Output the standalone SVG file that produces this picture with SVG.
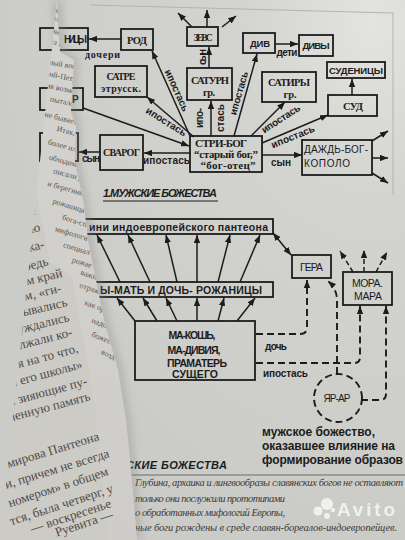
<svg xmlns="http://www.w3.org/2000/svg" width="405" height="540" viewBox="0 0 405 540">
<defs>
<style>
.bx{fill:none;stroke:#1c1c1c;stroke-width:1.8}
.ln{fill:none;stroke:#1c1c1c;stroke-width:1.5;marker-end:url(#ah)}
.dl{fill:none;stroke:#1c1c1c;stroke-width:1.9;stroke-dasharray:7 4;marker-end:url(#ah)}
.sf{font-family:"Liberation Serif","DejaVu Serif",serif;font-weight:bold;fill:#1c1c1c}
.ss{font-family:"Liberation Sans","DejaVu Sans",sans-serif;font-weight:bold;fill:#1c1c1c}
.sr{font-family:"Liberation Sans","DejaVu Sans",sans-serif;fill:#1c1c1c}
.c{text-anchor:middle}
.lb{font-size:10px}
.cap{font-family:"Liberation Sans",sans-serif;font-weight:bold;font-style:italic;font-size:11px;fill:#1c1c1c}
.pb{font-family:"Liberation Serif",serif;font-size:13px;fill:#4f4c48;text-anchor:end}
.ps{font-family:"Liberation Serif",serif;font-size:8px;fill:#5a5752;text-anchor:end}
.it{font-family:"Liberation Serif",serif;font-style:italic;font-size:10.5px;fill:#3d3b38}
</style>
<marker id="ah" viewBox="0 0 10 8" refX="10" refY="4" markerWidth="8" markerHeight="6.4" markerUnits="userSpaceOnUse" orient="auto-start-reverse"><path d="M0,0 L10,4 L0,8 Z" fill="#1c1c1c"/></marker>
<radialGradient id="bg" cx="0.92" cy="0.04" r="0.95"><stop offset="0" stop-color="#e3e3e0"/><stop offset="0.35" stop-color="#d3d3d0"/><stop offset="1" stop-color="#cbcbc8"/></radialGradient>
<linearGradient id="lp" x1="0" y1="0" x2="0" y2="1"><stop offset="0" stop-color="#d5d3cf"/><stop offset="1" stop-color="#cfcdc9"/></linearGradient>
<filter id="blur" x="-30%" y="-5%" width="160%" height="110%"><feGaussianBlur stdDeviation="4"/></filter>
<clipPath id="lpc"><path d="M57,0 L60,52 L74,60 L71,112 L76,124 L75,162 L84,205 L88,240 L96,280 L104,320 L118,370 L126,420 L131,470 L137,540 L0,540 Z"/></clipPath>
</defs>

<g id="page-bg">
<rect width="405" height="540" fill="url(#bg)"/>
<path d="M90,5 L393,13 L393,195" fill="none" stroke="#b3b3b0" stroke-width="1"/>
</g>

<g id="connectors">
<path class="ln" d="M121,39 H89"/>
<path class="ln" d="M275,44 H298"/>
<path class="ln" d="M209,68 V47"/>
<path class="ln" d="M352,95 V79"/>
<path class="ln" d="M192,27 L178,13"/>
<path class="ln" d="M207,27 V10"/>
<path class="ln" d="M222,27 L236,16"/>
<path class="ln" d="M190,136 L152,51"/>
<path class="ln" d="M194,137 L147,97"/>
<path class="ln" d="M83,108 L189,146"/>
<path class="ln" d="M211,136 V101"/>
<path class="ln" d="M234,136 L257,54"/>
<path class="ln" d="M251,136 L285,102"/>
<path class="ln" d="M262,143 L328,115"/>
<path class="ln" d="M262,155 H302"/>
<path class="ln" d="M190,153 H144"/>
<path class="ln" d="M100,152 H79"/>
<path class="ln" d="M372,141 L388,131"/>
<path class="ln" d="M372,158 H388"/>
<path class="ln" d="M372,173 L388,183"/>
<path class="ln" d="M120,282 L97,235"/>
<path class="ln" d="M150,282 L128,235"/>
<path class="ln" d="M177,282 L166,235"/>
<path class="ln" d="M197,282 V235"/>
<path class="ln" d="M218,282 L230,235"/>
<path class="ln" d="M240,282 L260,235"/>
<path class="ln" d="M135,321 L117,298"/>
<path class="ln" d="M157,321 L143,298"/>
<path class="ln" d="M177,321 L166,298"/>
<path class="ln" d="M197,321 V298"/>
<path class="ln" d="M218,321 L224,298"/>
<path class="ln" d="M237,321 L255,298"/>
<path class="ln" d="M273,233 L291,255" style="marker-start:url(#ah)"/>
<path class="dl" style="stroke-dasharray:5 3;stroke-width:1.5" d="M353,272 L340,251"/>
<path class="dl" style="stroke-dasharray:5 3;stroke-width:1.5" d="M364,272 V250"/>
<path class="dl" style="stroke-dasharray:5 3;stroke-width:1.5" d="M376,272 L387,252"/>
<path class="dl" d="M256,334 H300 Q307,334 307,327 V280"/>
<path class="dl" d="M256,363 H354 Q360,363 360,357 V306"/>
<path class="dl" d="M337,374 V300 Q337,289 328,281"/>
<path class="dl" d="M361,400 H380 Q386,400 386,394 V306"/>
<g class="ss lb">
<text x="102.5" y="58" class="sf c" textLength="35">дочери</text>
<text x="287" y="56" class="c" textLength="21">дети</text>
<text transform="translate(206,57) rotate(-90)" class="c" textLength="16">сын</text>
<text transform="translate(171,93) rotate(66)" y="-3" class="c" textLength="45">ипостась</text>
<text transform="translate(166,122) rotate(32)" y="3" class="c" textLength="46">ипостась</text>
<text transform="translate(203,118) rotate(-90)" class="c" textLength="20">ипо-</text>
<text transform="translate(224,118) rotate(-90)" class="c" textLength="28">стась</text>
<text transform="translate(245,95) rotate(-74)" y="-3" class="c" textLength="45">ипостась</text>
<text transform="translate(281,119) rotate(-33)" y="3" class="c" textLength="44">ипостась</text>
<text transform="translate(293,137) rotate(-22)" y="3" class="c" textLength="46">ипостась</text>
<text x="281" y="166" class="c" textLength="20">сын</text>
<text x="166.5" y="164" class="c" textLength="47">ипостась</text>
<text x="91" y="162" class="c" textLength="18">сын</text>
<text x="265" y="350" textLength="22">дочь</text>
<text x="263" y="377" textLength="45">ипостась</text>
</g>
</g>

<g id="n-nicy"><rect class="bx" x="40" y="28" width="48" height="22"/><text class="ss lb" x="64" y="43" textLength="23">НИЦЫ</text></g>
<g id="n-rod"><rect class="bx" x="121" y="29" width="32" height="21"/><text class="sf c" font-size="10.5" x="137" y="44" textLength="20">РОД</text></g>
<g id="n-zevs"><rect class="bx" x="187" y="27" width="31" height="19"/><text class="sf c" font-size="9.5" x="203" y="41" textLength="19">ЗЕВС</text></g>
<g id="n-div"><rect class="bx" x="243" y="33" width="32" height="20"/><text class="ss c" font-size="9.5" x="260" y="47" textLength="20">ДИВ</text></g>
<g id="n-divy"><rect class="bx" x="299" y="35" width="34" height="21"/><text class="ss c" font-size="9.5" x="316" y="49" textLength="27">ДИВЫ</text></g>
<g id="n-sudenicy"><rect class="bx" x="327" y="62" width="58" height="16"/><text class="ss c" font-size="9.5" x="356" y="74" textLength="54">СУДЕНИЦЫ</text></g>
<g id="n-satre"><rect class="bx" x="95" y="66" width="52" height="31"/><text class="sf c" font-size="10" x="121" y="80" textLength="29">САТРЕ</text><text class="sf c" font-size="10" x="121" y="92" textLength="40">этрусск.</text></g>
<g id="n-saturn"><rect class="bx" x="187" y="68" width="45" height="32"/><text class="sf c" font-size="10.5" x="210" y="84" textLength="38">САТУРН</text><text class="sf c" font-size="10.5" x="209" y="96" textLength="12">гр.</text></g>
<g id="n-satiry"><rect class="bx" x="262" y="72" width="54" height="30"/><text class="sf c" font-size="10.5" x="289" y="86" textLength="42">САТИРЫ</text><text class="sf c" font-size="10.5" x="290" y="98" textLength="13">гр.</text></g>
<g id="n-sud"><rect class="bx" x="328" y="95" width="49" height="21"/><text class="sf c" font-size="10.5" x="353" y="110" textLength="20">СУД</text></g>
<g id="n-boxA"><rect class="bx" x="40" y="88" width="43" height="22"/><text class="ss lb" x="72" y="103">Р</text></g>
<g id="n-boxB"><rect class="bx" x="40" y="133" width="38" height="28"/></g>
<g id="n-svarog"><rect class="bx" x="100" y="135" width="43" height="35"/><text class="sf c" font-size="10" x="121.5" y="156" textLength="37">СВАРОГ</text></g>
<g id="n-stribog"><rect class="bx" x="190" y="136" width="72" height="36"/><text class="sf c" font-size="11" x="221" y="147" textLength="52">СТРИ-БОГ</text><text class="sf c" font-size="11" x="226" y="158" textLength="64">“старый бог,”</text><text class="sf c" font-size="11" x="228" y="169" textLength="55">“бог-отец”</text></g>
<g id="n-dazhbog"><rect class="bx" x="302" y="140" width="70" height="35"/><text class="sr" font-size="10" x="304" y="153" textLength="64">ДАЖДЬ-БОГ-</text><text class="sr" font-size="10" x="304" y="167" textLength="46">КОПОЛО</text></g>
<g id="caption-1"><text class="cap" x="103" y="197" textLength="114">1.МУЖСКИЕ БОЖЕСТВА</text><path d="M103,201 H218" stroke="#1c1c1c" stroke-width="1.2"/></g>

<g id="n-indo"><rect class="bx" x="40" y="219" width="233" height="15"/><text class="ss" font-size="10.5" x="89" y="230.5" textLength="179">ини индоевропейского пантеона</text></g>
<g id="n-rozhanicy"><rect class="bx" x="40" y="282" width="233" height="15"/><text class="ss" font-size="10.5" x="100" y="293.5" textLength="162">Ы-МАТЬ И ДОЧЬ- РОЖАНИЦЫ</text></g>
<g id="n-makosh"><rect class="bx" x="135" y="321" width="120" height="59"/>
<text class="sr c" font-size="10.5" font-weight="bold" x="192" y="339" textLength="47">МА-КОШЬ,</text>
<text class="sr c" font-size="10.5" font-weight="bold" x="194" y="354" textLength="53">МА-ДИВИЯ,</text>
<text class="sr c" font-size="10.5" font-weight="bold" x="197" y="366.5" textLength="60">ПРАМАТЕРЬ</text>
<text class="sr c" font-size="10.5" font-weight="bold" x="195" y="378" textLength="46">СУЩЕГО</text></g>
<g id="n-gera"><rect class="bx" x="292" y="255" width="39" height="23"/><text class="sr c" font-size="10.5" x="311.5" y="271" textLength="23">ГЕРА</text></g>
<g id="n-mora"><rect class="bx" x="343" y="272" width="49" height="33"/><text class="sr c" font-size="10.5" x="367.5" y="287" textLength="31">МОРА.</text><text class="sr c" font-size="10.5" x="368" y="300" textLength="28">МАРА</text></g>
<g id="n-yarar"><circle cx="338" cy="398" r="24" fill="none" stroke="#1c1c1c" stroke-width="1.9" stroke-dasharray="7 4"/><text class="sr c" font-size="10" x="337" y="402" textLength="27">ЯР-АР</text></g>
<g id="note"><text class="ss" font-size="12" x="262" y="436" textLength="113">мужское божество,</text><text class="ss" font-size="12" x="262" y="450" textLength="133">оказавшее влияние на</text><text class="ss" font-size="12" x="262" y="464" textLength="141">формирование образов</text></g>
<g id="caption-2"><text class="cap" x="126" y="469" textLength="101">СКИЕ БОЖЕСТВА</text><path d="M130,475 H405" stroke="#6a6a67" stroke-width="1"/></g>
<g id="body-text">
<text class="it" x="135" y="486" textLength="268">Глубина, архаика и лингвообразы славянских богов не оставляют</text>
<text class="it" x="135" y="502" textLength="150">только они послужили прототипами</text>
<text class="it" x="135" y="516" textLength="150">о обработанных мифологий Европы,</text>
<text class="it" x="135" y="531" textLength="262">ные боги рождены в среде славян-бореалов-индоевропейцев.</text>
</g>
<g id="watermark" fill="#ffffff" opacity="0.72">
<circle cx="318" cy="511" r="4.5"/><circle cx="327" cy="504" r="6"/><circle cx="327" cy="516" r="3"/><circle cx="333" cy="510" r="2.2"/>
<text x="337" y="516" font-family="Liberation Sans,sans-serif" font-weight="bold" font-size="19" textLength="58">Avito</text>
</g>

<g id="left-page">
<path d="M57,0 L60,52 L74,60 L71,112 L76,124 L75,162 L84,205 L88,240 L96,280 L104,320 L118,370 L126,420 L131,470 L137,540" fill="none" stroke="#8a8985" stroke-width="7" opacity="0.5" filter="url(#blur)"/>
<path d="M57,0 L60,52 L74,60 L71,112 L76,124 L75,162 L84,205 L88,240 L96,280 L104,320 L118,370 L126,420 L131,470 L137,540 L0,540 Z" fill="url(#lp)"/>
<g clip-path="url(#lpc)">
<path d="M0,112 L28,150 L50,262 L72,276 L94,400 L108,540 L0,540 Z" fill="#cdcbc6"/>
<g class="ps">
<text transform="translate(74,19) rotate(20)">предопр</text>
<text transform="translate(80,30) rotate(20)">овало его в</text>
<text transform="translate(77,42) rotate(20)">обязанности</text>
<text transform="translate(80,53) rotate(18)">вошел в функ</text>
<text transform="translate(80,70) rotate(10)">Осиный вопр</text>
<text transform="translate(80,83) rotate(12)">Егорий-Петру</text>
<text transform="translate(80,95) rotate(12)">Егория возмож</text>
<text transform="translate(81,108) rotate(12)">пыталось</text>
<text transform="translate(82,126) rotate(14)">не бывает с</text>
<text transform="translate(80,137) rotate(14)">Итак, в</text>
<text transform="translate(80,153) rotate(15)">более или</text>
<text transform="translate(80,168) rotate(15)">обходимо</text>
<text transform="translate(82,181) rotate(15)">писали д</text>
<text transform="translate(83,196) rotate(16)">и берегини</text>
<text transform="translate(84,213) rotate(17)">рожаница</text>
<text transform="translate(86,227) rotate(17)">бога-сп</text>
<text transform="translate(87,241) rotate(17)">мифологи</text>
<text transform="translate(89,255) rotate(17)">специал</text>
<text transform="translate(91,268) rotate(17)">рожае</text>
<text transform="translate(100,281) rotate(18)">важно</text>
<text transform="translate(102,295) rotate(18)">отража</text>
<text transform="translate(104,312) rotate(20)">как ор</text>
<text transform="translate(106,328) rotate(20)">надо</text>
<text transform="translate(110,344) rotate(22)">божес</text>
<text transform="translate(114,360) rotate(25)">возд</text>
</g>
<g class="pb">
<text transform="translate(15,131) rotate(-14)">у-</text>
<text transform="translate(22,148) rotate(-14)">ней</text>
<text transform="translate(24,165) rotate(-14)">шая</text>
<text transform="translate(28,181) rotate(-14)">озов</text>
<text transform="translate(30,197) rotate(-14)">хоти</text>
<text transform="translate(36,214) rotate(-14)">рстве</text>
<text transform="translate(41,231) rotate(-14)">йскую</text>
<text transform="translate(45,248) rotate(-14)">унижа-</text>
<text transform="translate(49,265) rotate(-14)">очередь</text>
<text transform="translate(63,277) rotate(-13)">дом край</text>
<text transform="translate(62,292) rotate(-13)">очем, «ги-</text>
<text transform="translate(68,306) rotate(-13)">казывались</text>
<text transform="translate(70,321) rotate(-14)">нуждались</text>
<text transform="translate(73,336) rotate(-14)">должали ко-</text>
<text transform="translate(79,352) rotate(-15)">тря на то что,</text>
<text transform="translate(83,368) rotate(-15)">и его школы»</text>
<text transform="translate(88,385) rotate(-15)">бя зияющие пу-</text>
<text transform="translate(91,400) rotate(-15)">вленную память</text>
<text transform="translate(100,440) rotate(-17)">мирова Пантеона</text>
<text transform="translate(110,457) rotate(-17)">и, причем не всегда</text>
<text transform="translate(109,475) rotate(-18)">номером» в общем</text>
<text transform="translate(114,492) rotate(-18)">тся, была четверг, у</text>
<text transform="translate(112,507) rotate(-18)">— воскресенье</text>
<text transform="translate(114,518) rotate(-18)">Руевита —</text>
</g>
</g>
</g>
</svg>
